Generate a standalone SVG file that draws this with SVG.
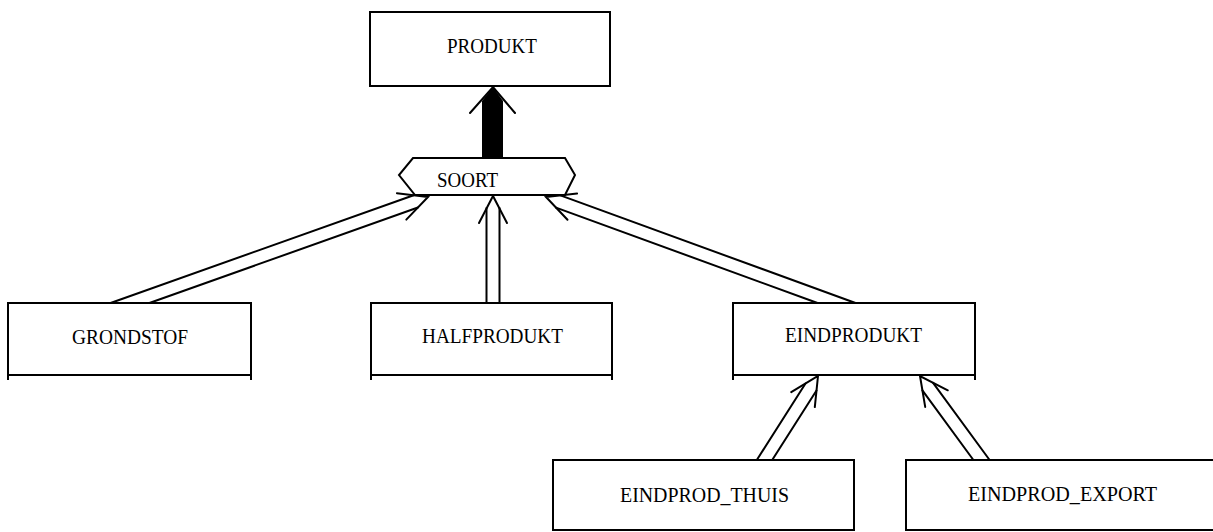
<svg xmlns="http://www.w3.org/2000/svg" width="1213" height="532" viewBox="0 0 1213 532">
<style>
.box{fill:#fff;stroke:#000;stroke-width:2}
.edge{fill:none;stroke:#000;stroke-width:2}
.lbl{font-family:"Liberation Serif","Times New Roman",serif;font-size:20px;fill:#000;text-anchor:middle}
.ln{fill:none;stroke:#000;stroke-width:2;stroke-linecap:round;stroke-linejoin:miter}
</style>
<rect width="1213" height="532" fill="#fff"/>
<g id="connectors">
  <g id="c-grondstof-soort">
    <line class="ln" x1="110.6" y1="303" x2="413.6" y2="195.2"/>
    <line class="ln" x1="149.4" y1="303" x2="417.9" y2="207.5"/>
    <polyline class="ln" points="396.9,193.2 428,197 406.3,219.6"/>
  </g>
  <g id="c-halfprodukt-soort">
    <line class="ln" x1="486.5" y1="303" x2="486.5" y2="208"/>
    <line class="ln" x1="499.5" y1="303" x2="499.5" y2="208"/>
    <polyline class="ln" points="479,223 493,196 507,223"/>
  </g>
  <g id="c-eindprodukt-soort">
    <line class="ln" x1="855.5" y1="303" x2="560.4" y2="195.4"/>
    <line class="ln" x1="817.5" y1="303" x2="556" y2="207.6"/>
    <polyline class="ln" points="577.1,193.5 546,197 567.5,219.8"/>
  </g>
  <g id="c-thuis-eindprodukt">
    <line class="ln" x1="756.8" y1="460" x2="805.5" y2="383.5"/>
    <line class="ln" x1="772.2" y1="460" x2="816.5" y2="390.5"/>
    <polyline class="ln" points="791.2,392.1 818,376 814.8,407.1"/>
  </g>
  <g id="c-export-eindprodukt">
    <line class="ln" x1="989.6" y1="460" x2="932.9" y2="382.7"/>
    <line class="ln" x1="973.4" y1="460" x2="922.4" y2="390.3"/>
    <polyline class="ln" points="947.8,390.3 920,376 925.2,406.9"/>
  </g>
  <g id="c-soort-produkt">
    <polygon points="482,158 482,101 493,87 503,101 503,158" fill="#000"/>
    <polyline class="ln" points="470,113 493,87 515,113"/>
  </g>
</g>
<g id="produkt">
  <rect class="box" x="370" y="12" width="240" height="74"/>
  <text class="lbl" x="492" y="53" textLength="90" lengthAdjust="spacingAndGlyphs">PRODUKT</text>
</g>
<g id="soort">
  <polygon class="box" points="413,158 565,158 575,175 565,195 415,195 399,175"/>
  <text class="lbl" x="467.5" y="187" textLength="61" lengthAdjust="spacingAndGlyphs">SOORT</text>
</g>
<g id="grondstof">
  <rect class="box" x="8" y="303" width="243" height="72"/>
  <path class="edge" d="M8 375 V380 M251 375 V380"/>
  <text class="lbl" x="130" y="344" textLength="116" lengthAdjust="spacingAndGlyphs">GRONDSTOF</text>
</g>
<g id="halfprodukt">
  <rect class="box" x="371" y="303" width="241" height="72"/>
  <path class="edge" d="M371 375 V380 M612 375 V380"/>
  <text class="lbl" x="492.5" y="343" textLength="141" lengthAdjust="spacingAndGlyphs">HALFPRODUKT</text>
</g>
<g id="eindprodukt">
  <rect class="box" x="733" y="303" width="242" height="72"/>
  <path class="edge" d="M733 375 V380 M975 375 V380"/>
  <text class="lbl" x="853.5" y="342" textLength="137" lengthAdjust="spacingAndGlyphs">EINDPRODUKT</text>
</g>
<g id="eindprod_thuis">
  <rect class="box" x="553" y="460" width="301" height="70"/>
  <text class="lbl" x="704.5" y="502" textLength="169" lengthAdjust="spacingAndGlyphs">EINDPROD_THUIS</text>
</g>
<g id="eindprod_export">
  <rect class="box" x="906" y="460" width="312" height="70"/>
  <text class="lbl" x="1062.5" y="501" textLength="189" lengthAdjust="spacingAndGlyphs">EINDPROD_EXPORT</text>
</g>
</svg>
